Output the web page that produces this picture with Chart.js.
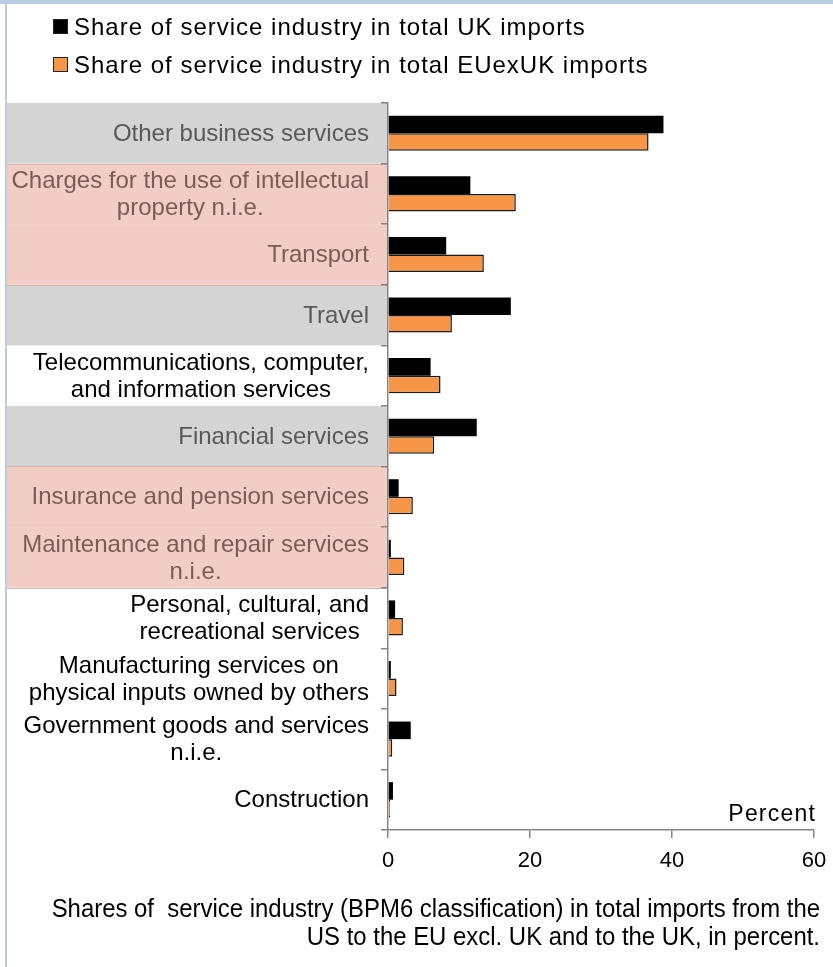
<!DOCTYPE html>
<html>
<head>
<meta charset="utf-8">
<title>US service imports by industry</title>
<script src="https://cdn.jsdelivr.net/npm/chart.js@4.4.0/dist/chart.umd.min.js"></script>
<style>
  html, body { margin: 0; padding: 0; background: #fff; }
  #wrap { width: 833px; height: 967px; }
</style>
</head>
<body>
<div id="wrap"><canvas id="importsChart" width="833" height="967"></canvas></div>
<script>
// Service industries (BPM6), top to bottom, one entry per label line
const categories = [
    ['Other business services'],
    ['Charges for the use of intellectual', 'property n.i.e.'],
    ['Transport'],
    ['Travel'],
    ['Telecommunications, computer,', 'and information services'],
    ['Financial services'],
    ['Insurance and pension services'],
    ['Maintenance and repair services', 'n.i.e.'],
    ['Personal, cultural, and', 'recreational services'],
    ['Manufacturing services on', 'physical inputs owned by others'],
    ['Government goods and services', 'n.i.e.'],
    ['Construction']
];
const ukShares = [38.8, 11.6, 8.2, 17.3, 6.0, 12.5, 1.5, 0.4, 1.0, 0.4, 3.2, 0.7];
const euShares = [36.7, 18.0, 13.5, 9.0, 7.4, 6.5, 3.5, 2.3, 2.1, 1.2, 0.6, 0.3];
const xTicks = [0, 20, 40, 60];
const seriesLabels = [
    'Share of service industry in total UK imports',
    'Share of service industry in total EUexUK imports'
];
const unitLabel = 'Percent';
const captionLines = [
    'Shares of  service industry (BPM6 classification) in total imports from the',
    'US to the EU excl. UK and to the UK, in percent.'
];

// shaded band behind each label
const labelBands = ['gray', 'pink', 'pink', 'gray', 'none', 'gray', 'pink', 'pink', 'none', 'none', 'none', 'none'];
const bandFill = { gray: '#d4d4d4', pink: '#f2cdc5' };
const bandText = { gray: '#595959', pink: '#7a5c56', none: '#000000' };

const FONT = '"Liberation Sans", Arial, sans-serif';
const seriesColors = ['#000000', '#f79646'];

const decorPlugin = {
    id: 'decor',
    beforeDraw(chart) {
        const ctx = chart.ctx;
        const y = chart.scales.y;
        const area = chart.chartArea;
        const half = (y.bottom - y.top) / categories.length / 2;
        ctx.save();
        // frame
        ctx.fillStyle = '#b9cde5';
        ctx.fillRect(0, 0, chart.width, 4);
        ctx.fillRect(5, 0, 2, chart.height);
        // label bands
        labelBands.forEach((b, i) => {
            if (b === 'none') return;
            ctx.fillStyle = bandFill[b];
            ctx.fillRect(7, y.getPixelForValue(i) - half, area.left - 7, half * 2);
        });
        // thin edge where a pink group starts / ends
        ctx.strokeStyle = '#d8b2a9';
        ctx.lineWidth = 1;
        for (let i = 0; i <= labelBands.length; i++) {
            const a = labelBands[i - 1] === 'pink';
            const b = labelBands[i] === 'pink';
            if (a !== b) {
                const yy = Math.round(y.getPixelForValue(i) - half) + 0.5;
                ctx.beginPath();
                ctx.moveTo(7, yy);
                ctx.lineTo(area.left - 1, yy);
                ctx.stroke();
            }
        }
        ctx.restore();
    },
    afterDraw(chart) {
        const ctx = chart.ctx;
        const y = chart.scales.y;
        ctx.save();

        // category labels: lines centred on each other, block right-aligned
        ctx.font = '24px ' + FONT;
        ctx.textBaseline = 'middle';
        ctx.textAlign = 'center';
        const rightEdge = 369;
        const lineH = 27;
        categories.forEach((lines, i) => {
            const w = Math.max(...lines.map(l => ctx.measureText(l).width));
            const cx = rightEdge - w / 2;
            const cy = y.getPixelForValue(i) + 1 - (lines.length - 1) * lineH / 2;
            ctx.fillStyle = bandText[labelBands[i]];
            lines.forEach((l, k) => ctx.fillText(l, cx, cy + k * lineH));
        });

        // legend
        ctx.textAlign = 'left';
        ctx.textBaseline = 'alphabetic';
        ctx.font = '24px ' + FONT;
        ctx.letterSpacing = '1px';
        seriesLabels.forEach((txt, k) => {
            const top = 19 + k * 38;
            ctx.fillStyle = seriesColors[k];
            ctx.fillRect(53, top, 15, 15);
            ctx.strokeStyle = '#222';
            ctx.lineWidth = 1;
            ctx.strokeRect(53.5, top + 0.5, 14, 14);
            ctx.fillStyle = '#000';
            ctx.fillText(txt, 74, top + 16);
        });

        // unit label above the value axis
        ctx.textAlign = 'right';
        ctx.font = '23px ' + FONT;
        ctx.letterSpacing = '1.2px';
        ctx.fillText(unitLabel, 816, 821);

        // caption, slightly condensed
        ctx.letterSpacing = '0px';
        ctx.font = '26px ' + FONT;
        captionLines.forEach((l, k) => {
            ctx.save();
            ctx.translate(820, 917 + k * 28);
            ctx.scale(0.92, 1);
            ctx.fillText(l, 0, 0);
            ctx.restore();
        });
        ctx.restore();
    }
};

const ctx = document.getElementById('importsChart');
new Chart(ctx, {
    type: 'bar',
    data: {
        labels: categories.map(l => l.join(' ')),
        datasets: [
            {
                label: seriesLabels[0],
                data: ukShares,
                backgroundColor: seriesColors[0],
                borderWidth: 0
            },
            {
                label: seriesLabels[1],
                data: euShares,
                backgroundColor: seriesColors[1],
                borderColor: '#1a1a1a',
                borderWidth: 1.5
            }
        ]
    },
    options: {
        responsive: false,
        animation: false,
        indexAxis: 'y',
        layout: { padding: { top: 103, right: 19, bottom: 97, left: 0 } },
        datasets: { bar: { categoryPercentage: 0.58, barPercentage: 1 } },
        plugins: {
            legend: { display: false },
            tooltip: { enabled: false }
        },
        scales: {
            x: {
                min: 0,
                max: 60,
                afterBuildTicks: s => { s.ticks = xTicks.map(v => ({ value: v })); },
                afterFit: s => { s.height = 40; s.paddingLeft = 0; s.paddingRight = 0; },
                ticks: { color: '#000', padding: 10, font: { family: FONT, size: 22 } },
                grid: { drawOnChartArea: false, tickLength: 8, color: '#868686', lineWidth: 1.5 },
                border: { color: '#868686', width: 1.5 }
            },
            y: {
                afterFit: s => { s.width = 388; },
                ticks: { display: false },
                grid: { drawOnChartArea: false, tickLength: 7, color: '#868686', lineWidth: 1.5, offset: true },
                border: { color: '#868686', width: 1.5 }
            }
        }
    },
    plugins: [decorPlugin]
});
</script>
</body>
</html>
